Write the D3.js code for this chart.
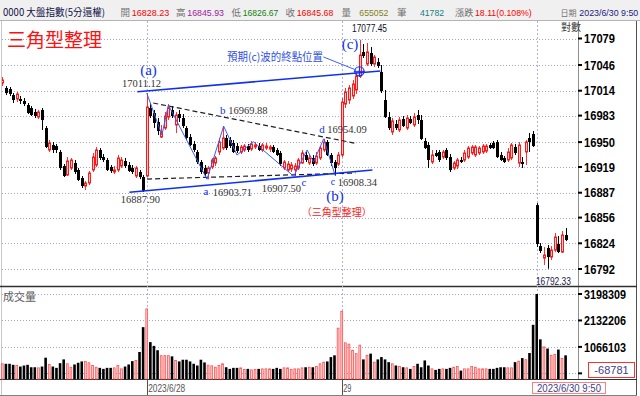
<!DOCTYPE html>
<html>
<head>
<meta charset="utf-8">
<script src="https://cdn.jsdelivr.net/npm/d3@7"></script>
<style>
body { margin: 0; background: #fff; }
svg { display: block; font-family: "Liberation Sans", Arial, sans-serif; }
.cjk { font-family: "Noto Sans CJK TC", "Noto Sans CJK SC", sans-serif; }
.serif { font-family: "Liberation Serif", "Times New Roman", serif; }
</style>
</head>
<body>
<svg id="chart" width="640" height="396"></svg>
<script>

// 5-minute bars: 6/27 (tail), 6/28, 6/29, 6/30 morning
const opens = [
	17023.6,17017.4,17016.1,17008.6,17003.7,17003.7,17001.2,16996.2,16992.4,16987.5,
	16981.2,16990.0,16967.5,16940.2,16946.4,16945.1,16937.7,16920.2,16909.0,16917.7,
	16924.0,16915.3,16905.3,16895.3,16899.1,16915.3,16921.5,16940.2,16931.4,16927.7,
	16919.0,16912.8,16915.3,16920.2,16926.5,16921.5,16917.7,16907.8,16912.8,16906.5,
	16907.8,16992.4,16986.2,16975.0,16956.3,16967.5,16981.2,16990.0,16971.3,16985.0,
	16980.0,16967.5,16956.3,16947.6,16937.7,16925.2,16917.7,16911.5,16919.0,16924.0,
	16937.7,16942.6,16955.1,16952.6,16948.9,16945.1,16937.7,16940.2,16945.1,16941.4,
	16943.9,16945.1,16940.2,16942.6,16941.4,16943.9,16940.2,16936.4,16917.7,16915.3,
	16916.5,16915.3,16917.7,16924.0,16933.9,16924.0,16930.2,16924.0,16930.2,16940.2,
	16950.1,16933.9,16925.2,16922.7,16933.9,16997.4,17002.4,17007.4,17014.9,17032.3,
	17062.2,17047.2,17060.9,17047.2,17049.7,17037.3,17002.4,16981.2,16962.6,16972.5,
	16965.1,16978.7,16967.5,16978.7,16971.3,16983.7,16977.5,16951.4,16946.4,16925.2,
	16936.4,16937.7,16931.4,16940.2,16931.4,16917.7,16920.2,16927.7,16927.7,16931.4,
	16936.4,16933.9,16936.4,16937.7,16938.9,16946.4,16948.9,16950.1,16933.9,16930.2,
	16927.7,16930.2,16943.9,16924.0,16925.2,16937.7,16955.1,16960.1,
	16871.6,16820.6,16805.6,16818.1,16806.9,16815.6,16823.1,16813.1,16834.3
];

const highs = [
	17031.0,17019.8,17018.6,17011.1,17012.4,17007.4,17004.9,16998.7,16994.9,16991.2,
	16990.0,16992.4,16970.0,16952.6,16950.1,16947.6,16940.2,16922.7,16931.4,16930.2,
	16927.7,16917.7,16907.8,16901.6,16914.0,16936.4,16943.9,16942.6,16935.2,16930.2,
	16921.5,16920.2,16933.9,16931.4,16930.2,16925.2,16921.5,16920.2,16915.3,16909.0,
	17011.12,16998.7,16990.0,16980.0,16971.3,16987.5,16997.4,16994.9,16987.5,16990.0,
	16985.0,16970.0,16960.1,16951.4,16940.2,16927.7,16921.5,16920.2,16930.2,16932.7,
	16955.1,16969.88,16958.8,16956.3,16952.6,16948.9,16946.4,16947.6,16947.6,16951.4,
	16950.1,16948.9,16948.9,16948.9,16946.4,16946.4,16942.6,16938.9,16927.7,16926.5,
	16925.2,16924.0,16930.2,16940.2,16937.7,16933.9,16933.9,16937.7,16945.1,16954.09,
	16952.6,16936.4,16927.7,16937.7,17004.9,17017.4,17021.1,17027.3,17037.3,17077.45,
	17072.1,17073.4,17068.4,17058.4,17054.7,17046.0,17014.9,16987.5,16980.0,16977.5,
	16981.2,16982.5,16983.7,16982.5,16986.2,16990.0,16983.7,16955.1,16950.1,16940.2,
	16940.2,16940.2,16940.2,16942.6,16935.2,16926.5,16930.2,16931.4,16940.2,16945.1,
	16946.4,16946.4,16945.1,16947.6,16947.6,16948.9,16951.4,16952.6,16937.7,16932.7,
	16942.6,16948.9,16947.6,16950.1,16931.4,16952.6,16961.3,16963.8,
	16874.1,16824.3,16819.3,16821.8,16820.6,16836.8,16833.0,16839.3,16843.0
];

const lows = [
	17019.8,17008.6,17007.4,16998.7,16999.9,16997.4,16994.9,16985.0,16982.5,16980.0,
	16978.7,16965.1,16942.6,16937.7,16936.4,16936.4,16915.3,16906.5,16907.8,16915.3,
	16910.3,16901.6,16892.8,16890.4,16896.6,16912.8,16919.0,16927.7,16925.2,16914.0,
	16911.5,16910.3,16912.8,16917.7,16917.7,16912.8,16910.3,16905.3,16904.0,16887.90,
	16906.5,16980.0,16967.5,16958.8,16955.1,16965.1,16977.5,16980.0,16961.3,16975.0,
	16967.5,16952.6,16945.1,16937.7,16922.7,16910.3,16907.8,16903.71,16916.5,16920.2,
	16933.9,16940.2,16940.2,16942.6,16936.4,16936.4,16935.2,16937.7,16937.7,16938.9,
	16941.4,16938.9,16937.7,16940.2,16937.7,16936.4,16932.7,16920.2,16915.3,16912.8,
	16912.8,16907.50,16915.3,16922.7,16925.2,16921.5,16920.2,16921.5,16927.7,16937.7,
	16932.7,16920.2,16908.34,16920.2,16931.4,16992.4,16997.4,17003.7,17009.9,17029.8,
	17054.7,17044.8,17044.8,17043.5,17042.3,17011.1,16980.0,16965.1,16958.8,16965.1,
	16962.6,16968.8,16965.1,16972.5,16968.8,16972.5,16952.6,16941.4,16917.7,16922.7,
	16931.4,16925.2,16928.9,16927.7,16912.8,16915.3,16916.5,16924.0,16925.2,16928.9,
	16933.9,16931.4,16933.9,16935.2,16936.4,16941.4,16941.4,16930.2,16926.5,16924.0,
	16925.2,16927.7,16933.9,16919.0,16917.7,16921.5,16937.7,16943.9,
	16819.3,16811.9,16797.0,16792.33,16803.2,16813.1,16811.9,16811.9,16826.8
];

const closes = [
	17027.3,17011.1,17009.9,17002.4,17009.9,17001.2,16997.4,16986.2,16983.7,16982.5,
	16987.5,16977.5,16943.9,16948.9,16940.2,16940.2,16917.7,16907.8,16926.5,16927.7,
	16912.8,16902.8,16895.3,16899.1,16911.5,16931.4,16940.2,16930.2,16927.7,16915.3,
	16914.0,16915.3,16930.2,16927.7,16920.2,16914.0,16912.8,16917.7,16906.5,16889.1,
	16993.7,16982.5,16973.8,16963.8,16962.6,16982.5,16992.4,16982.5,16983.7,16980.0,
	16970.0,16955.1,16946.4,16940.2,16925.2,16912.8,16910.3,16917.7,16927.7,16930.2,
	16950.1,16955.1,16942.6,16945.1,16937.7,16938.9,16943.9,16945.1,16940.2,16947.6,
	16946.4,16940.2,16946.4,16945.1,16943.9,16937.7,16933.9,16922.7,16925.2,16922.7,
	16921.5,16920.2,16927.7,16936.4,16927.7,16930.2,16922.7,16932.7,16942.6,16950.1,
	16933.9,16924.0,16917.7,16933.9,16999.9,17012.4,17017.4,17022.3,17032.3,17058.4,
	17057.2,17062.2,17047.2,17055.9,17044.8,17013.6,16981.2,16967.5,16976.3,16967.5,
	16977.5,16970.0,16980.0,16973.8,16981.2,16977.5,16953.9,16942.6,16927.7,16933.9,
	16932.7,16927.7,16937.7,16930.2,16915.3,16924.0,16927.7,16925.2,16936.4,16942.6,
	16943.9,16943.9,16942.6,16945.1,16945.1,16942.6,16942.6,16931.4,16927.7,16925.2,
	16937.7,16946.4,16936.4,16946.4,16922.7,16950.1,16950.1,16945.1,
	16823.1,16814.4,16809.4,16806.9,16815.6,16831.8,16813.1,16834.3,16828.1
];

const volumes = [
	385000,385000,385000,344000,316000,275000,316000,344000,246000,246000,
	221000,275000,631000,357000,275000,221000,410000,562000,385000,246000,
	357000,426000,480000,480000,426000,316000,246000,221000,180000,221000,
	221000,221000,316000,180000,275000,357000,492000,521000,861000,1862000,
	2600000,1259000,1107000,931000,713000,713000,713000,685000,521000,480000,
	549000,549000,480000,385000,316000,549000,439000,328000,303000,246000,
	316000,385000,246000,180000,221000,221000,221000,152000,180000,139000,
	152000,180000,180000,180000,180000,180000,221000,180000,221000,221000,
	152000,180000,180000,221000,246000,246000,246000,275000,385000,451000,
	480000,656000,726000,1821000,2501000,1230000,1177000,931000,795000,1136000,
	562000,726000,795000,451000,562000,656000,562000,451000,385000,316000,
	275000,246000,221000,180000,275000,385000,246000,521000,316000,180000,
	139000,180000,180000,180000,221000,246000,275000,111000,180000,180000,
	275000,246000,180000,180000,180000,180000,180000,221000,246000,246000,
	221000,221000,451000,492000,615000,549000,820000,1956000,
	3198309,1370000,1066000,1000000,726000,767000,959000,600000,726000
];

const priceTicks = [17079, 17046, 17014, 16983, 16950, 16919, 16887, 16856, 16824, 16792];
const volTicks = [3198309, 2132206, 1066103];
const dayStart = [40, 94, 148];
const dayLabel = ['2023/6/28', '29'];

// triangle annotation (bar index, price)
const waveIdx = [40, 44.2, 46, 56.7, 61.3, 65, 69.5, 80.7, 84.4, 86.2, 89, 92.2];
const wavePx  = [17011.12, 16958.8, 16996.2, 16903.71, 16969.88, 16933.9, 16950.5, 16907.5, 16940.2, 16925.2, 16954.09, 16908.34];
const channelUpper = [[37.4, 17012.7], [104.7, 17038.5]];
const channelLower = [[35.2, 16887.5], [102.5, 16915.2]];
const trendUpper = [[41.8, 16998.7], [97.8, 16948.5]];
const trendLower = [[40.1, 16904.0], [97.8, 16911.5]];
const target = [98.9, 17038.1];

const svg = d3.select('#chart');
const blue = '#1030f0';

const x = d3.scaleLinear().domain([0, 156]).range([2.3, 565.6]);
const y = d3.scaleLinear().domain([16792, 17079]).range([269, 38.5]);
const yv = d3.scaleLinear().domain([-228000, 3198309]).range([379, 294]);

// header strip
svg.append('rect').attr('width', 640).attr('height', 20).attr('fill', '#f0f0f0');
svg.append('line').attr('x1', 0).attr('x2', 640).attr('y1', 20.5).attr('y2', 20.5).attr('stroke', '#b4b4b4');

// [text, x, colour, fitted width, cjk, font size]
const header = [
	['0000 大盤指數(5分還權)', 3, '#101048', 102, true, 10],
	['開', 120.5, '#707070', 0, true, 9.5], ['16828.23', 131.7, '#ff0000', 37.7, false, 9.3],
	['高', 176, '#707070', 0, true, 9.5], ['16845.93', 187.3, '#a020a0', 36.7, false, 9.3],
	['低', 231.5, '#707070', 0, true, 9.5], ['16826.67', 242.7, '#108010', 35.6, false, 9.3],
	['收', 285.5, '#707070', 0, true, 9.5], ['16845.68', 296.7, '#ff0000', 36.7, false, 9.3],
	['量', 341.5, '#707070', 0, true, 9.5], ['655052', 359.3, '#808020', 29, false, 9.3],
	['筆', 397, '#707070', 0, true, 9.5], ['41782', 420, '#108080', 24, false, 9.3],
	['漲跌', 455, '#707070', 18.3, true, 9.5], ['18.11(0.108%)', 475, '#ff0000', 56.7, false, 9.3],
	['日期', 560.5, '#707070', 16, true, 8.5], ['2023/6/30 9:50', 579.3, '#202080', 59, false, 9]
];
header.forEach(h => {
	const t = svg.append('text')
		.attr('x', h[1]).attr('y', 15.5)
		.attr('class', h[4] ? 'cjk' : null)
		.attr('font-size', h[5])
		.attr('fill', h[2])
		.text(h[0]);
	if (h[3]) t.attr('textLength', h[3]).attr('lengthAdjust', 'spacingAndGlyphs');
});

// frame
svg.append('line').attr('x1', 1.5).attr('x2', 1.5).attr('y1', 21).attr('y2', 395).attr('stroke', '#c8c8c8');
svg.append('line').attr('x1', 578.5).attr('x2', 578.5).attr('y1', 21).attr('y2', 379).attr('stroke', '#909090');
svg.append('line').attr('x1', 636.5).attr('x2', 636.5).attr('y1', 21).attr('y2', 395).attr('stroke', '#505050');
svg.append('line').attr('x1', 0).attr('x2', 637).attr('y1', 286.5).attr('y2', 286.5).attr('stroke', '#303030').attr('stroke-width', 1.5);
svg.append('line').attr('x1', 0).attr('x2', 637).attr('y1', 379.5).attr('y2', 379.5).attr('stroke', '#303030');
svg.append('line').attr('x1', 0).attr('x2', 637).attr('y1', 395.5).attr('y2', 395.5).attr('stroke', '#808080');

// grid
const grid = svg.append('g').attr('stroke', '#a4a4d8').attr('stroke-dasharray', '1,2');
grid.selectAll('line.p').data(priceTicks).join('line')
	.attr('x1', 2).attr('x2', 578)
	.attr('y1', d => Math.round(y(d)) + 0.5).attr('y2', d => Math.round(y(d)) + 0.5);
grid.selectAll('line.v').data([...volTicks, 0]).join('line')
	.attr('x1', 2).attr('x2', 578)
	.attr('y1', d => Math.round(yv(d)) + 0.5).attr('y2', d => Math.round(yv(d)) + 0.5);
svg.append('g').attr('stroke', '#b0b0e4').attr('stroke-dasharray', '2,2')
	.selectAll('line').data(dayStart).join('line')
	.attr('x1', d => Math.round(x(d)) + 0.5).attr('x2', d => Math.round(x(d)) + 0.5)
	.attr('y1', 21).attr('y2', 379);

// right axis
const axisR = svg.append('g');
axisR.selectAll('line.t').data(priceTicks).join('line')
	.attr('x1', 578).attr('x2', 582)
	.attr('y1', d => y(d)).attr('y2', d => y(d))
	.attr('stroke', '#000').attr('stroke-width', 2);
axisR.selectAll('text.t').data(priceTicks).join('text')
	.attr('x', 584).attr('y', d => y(d)).attr('dy', '0.36em')
	.attr('font-size', 13).attr('font-weight', 'bold')
	.attr('textLength', 31).attr('lengthAdjust', 'spacingAndGlyphs')
	.text(d => d);
axisR.selectAll('line.v').data([...volTicks, 0]).join('line')
	.attr('x1', 578).attr('x2', 582)
	.attr('y1', d => yv(d)).attr('y2', d => yv(d))
	.attr('stroke', '#000').attr('stroke-width', 2);
axisR.selectAll('text.v').data(volTicks).join('text')
	.attr('x', 584).attr('y', d => yv(d)).attr('dy', '0.36em')
	.attr('font-size', 13).attr('font-weight', 'bold')
	.attr('textLength', 42).attr('lengthAdjust', 'spacingAndGlyphs')
	.text(d => d);

svg.append('text').attr('class', 'cjk').attr('x', 561).attr('y', 31)
	.attr('font-size', 10).attr('fill', '#404040').text('對數');
svg.append('text').attr('class', 'cjk').attr('x', 3).attr('y', 301)
	.attr('font-size', 11).attr('fill', '#606060').text('成交量');

// candles
svg.append('clipPath').attr('id', 'clipP').append('rect')
	.attr('x', 2).attr('y', 21).attr('width', 576).attr('height', 265);
const idx = d3.range(opens.length);
const up = i => closes[i] >= opens[i];
const cx = i => Math.round(x(i));

const gc = svg.append('g').attr('clip-path', 'url(#clipP)');
const bars = gc.selectAll('g').data(idx).join('g');
bars.append('line')
	.attr('x1', i => cx(i) + 0.5).attr('x2', i => cx(i) + 0.5)
	.attr('y1', i => y(highs[i])).attr('y2', i => y(lows[i]))
	.attr('stroke', i => up(i) ? '#ff3030' : '#000');
bars.append('rect')
	.attr('x', i => up(i) ? cx(i) - 0.5 : cx(i) - 1)
	.attr('width', i => up(i) ? 2 : 3)
	.attr('y', i => y(Math.max(opens[i], closes[i])))
	.attr('height', i => Math.max(1, Math.abs(y(opens[i]) - y(closes[i]))))
	.attr('fill', i => up(i) ? '#ffc8c8' : '#000')
	.attr('stroke', i => up(i) ? '#ff1818' : 'none');

// volume
svg.append('g').selectAll('rect').data(idx).join('rect')
	.attr('x', i => up(i) ? x(i) - 0.9 : x(i) - 1.3)
	.attr('width', i => up(i) ? 1.8 : 2.6)
	.attr('y', i => yv(volumes[i]))
	.attr('height', i => 379 - yv(volumes[i]))
	.attr('fill', i => up(i) ? '#ffd4d4' : '#000')
	.attr('stroke', i => up(i) ? '#ff5050' : 'none')
	.attr('stroke-width', 0.8);

// triangle annotation
const ln = d3.line().x(d => x(d[0])).y(d => y(d[1]));
const ga = svg.append('g').attr('fill', 'none');
ga.append('path').attr('d', ln(trendUpper)).attr('stroke', '#202020').attr('stroke-width', 1.2).attr('stroke-dasharray', '5,3');
ga.append('path').attr('d', ln(trendLower)).attr('stroke', '#202020').attr('stroke-width', 1.2).attr('stroke-dasharray', '5,3');
ga.append('path').attr('d', ln(waveIdx.map((d, k) => [d, wavePx[k]]))).attr('stroke', '#3a5af8').attr('stroke-width', 1);
ga.append('path').attr('d', ln(channelUpper)).attr('stroke', blue).attr('stroke-width', 1.6);
ga.append('path').attr('d', ln(channelLower)).attr('stroke', blue).attr('stroke-width', 1.6);

const tx = x(target[0]), ty = y(target[1]), r = 4.6;
ga.append('circle').attr('cx', tx).attr('cy', ty).attr('r', r).attr('stroke', blue).attr('stroke-width', 1.2);
ga.append('path').attr('d', `M${tx - r - 1},${ty}H${tx + r + 1}M${tx},${ty - r - 1}V${ty + r + 1}`).attr('stroke', blue);
const lx = tx - 36, ly = ty - 14.4, ang = Math.atan2(ty - ly, tx - lx);
ga.append('path').attr('d', `M${lx},${ly}L${tx - r * Math.cos(ang)},${ty - r * Math.sin(ang)}`).attr('stroke', '#4060f0');

function note(t, i, p, dx, dy, size, color, cls, anchor) {
	return svg.append('text')
		.attr('x', x(i) + dx).attr('y', y(p) + dy)
		.attr('font-size', size).attr('fill', color)
		.attr('class', cls).attr('text-anchor', anchor || 'start')
		.text(t);
}
const numCol = '#333';
note('(a)', 40, 17011.12, 1.8, -18.5, 15, blue, 'serif', 'middle');
note('17011.12', 40, 17011.12, -24.7, -6.3, 10.5, numCol, 'serif');
note('16887.90', 39, 16887.9, -22.4, 11.5, 10.5, numCol, 'serif');
note('a', 56.7, 16903.71, -3.5, 16.2, 11, blue, 'serif');
note('16903.71', 56.7, 16903.71, 5.7, 16.7, 10.5, numCol, 'serif');
note('b', 61.3, 16969.88, -3.7, -12.6, 11, blue, 'serif');
note('16969.88', 61.3, 16969.88, 4.6, -12, 10.5, numCol, 'serif');
note('16907.50', 80.7, 16907.5, -32, 15.8, 10.5, numCol, 'serif');
note('c', 80.7, 16907.5, 7.8, 9.8, 11, blue, 'serif');
note('d', 89, 16954.09, -4.4, -5.8, 11, blue, 'serif');
note('16954.09', 89, 16954.09, 3.6, -5.8, 10.5, numCol, 'serif');
note('c', 92.2, 16908.34, -4.5, 9.3, 10, blue, 'serif');
note('16908.34', 92.2, 16908.34, 2.5, 10.8, 10.5, numCol, 'serif');
note('(b)', 92.2, 16908.34, -0.2, 25.3, 15, blue, 'serif', 'middle');
note('（三角型整理）', 92.2, 16908.34, -33.5, 40.3, 10, '#ff2020', 'cjk');
note('(c)', 99, 17077.45, -9.8, 9.3, 15, blue, 'serif', 'middle');
note('17077.45', 99, 17077.45, -7.8, -8.2, 11, '#101030').attr('textLength', 35).attr('lengthAdjust', 'spacingAndGlyphs');
note('16792.33', 151, 16792.33, -11.6, 15.8, 11, '#202048').attr('textLength', 35).attr('lengthAdjust', 'spacingAndGlyphs');
note('預期(c)波的終點位置', target[0], target[1], -36.4, -10.4, 11, '#3050e0', 'cjk', 'end')
	.attr('textLength', 96).attr('lengthAdjust', 'spacingAndGlyphs');

svg.append('text').attr('class', 'cjk').attr('x', 7).attr('y', 47)
	.attr('font-size', 19).attr('fill', '#ff1010').text('三角型整理');

// date row
svg.append('g').selectAll('line').data(dayStart.slice(0, 2)).join('line')
	.attr('x1', d => Math.round(x(d)) + 0.5).attr('x2', d => Math.round(x(d)) + 0.5)
	.attr('y1', 379).attr('y2', 395).attr('stroke', '#505050');
svg.append('g').selectAll('text').data(dayLabel).join('text')
	.attr('x', (d, k) => x(dayStart[k]) + 1.5).attr('y', 392)
	.attr('font-size', 10.5).attr('fill', '#555')
	.attr('textLength', d => d.length * 4.1).attr('lengthAdjust', 'spacingAndGlyphs')
	.text(d => d);

// cursor readouts
svg.append('rect').attr('x', 532.5).attr('y', 382.5).attr('width', 73).attr('height', 11)
	.attr('fill', '#fff').attr('stroke', '#ff8080');
svg.append('text').attr('x', 569).attr('y', 392).attr('text-anchor', 'middle')
	.attr('font-size', 10.5).attr('fill', '#404088')
	.attr('textLength', 64).attr('lengthAdjust', 'spacingAndGlyphs').text('2023/6/30 9:50');
svg.append('rect').attr('x', 588.5).attr('y', 362.5).attr('width', 46).attr('height', 15)
	.attr('fill', '#fff').attr('stroke', '#ff3030');
svg.append('text').attr('x', 611.5).attr('y', 374).attr('text-anchor', 'middle')
	.attr('font-size', 11).attr('fill', '#404088').text('-68781');

</script>
</body>
</html>
